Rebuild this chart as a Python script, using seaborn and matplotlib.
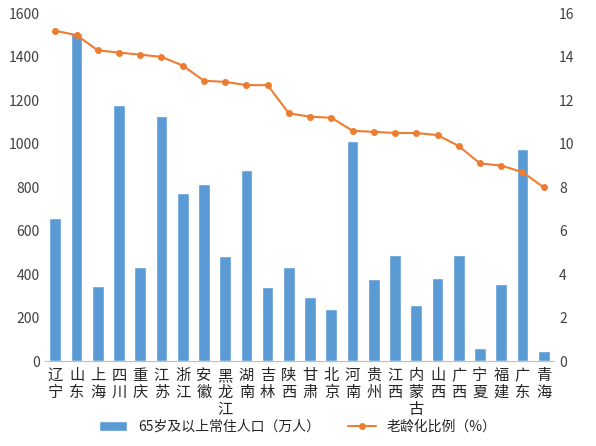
import matplotlib
matplotlib.use("Agg")
import matplotlib.pyplot as plt
import seaborn as sns
import pandas as pd

# provinces, population aged 65+ (10k) and aging ratio (%)
provinces = ["辽宁", "山东", "上海", "四川", "重庆", "江苏", "浙江", "安徽", "黑龙江", "湖南",
             "吉林", "陕西", "甘肃", "北京", "河南", "贵州", "江西", "内蒙古", "山西", "广西",
             "宁夏", "福建", "广东", "青海"]
population = [660, 1510, 345, 1180, 435, 1130, 775, 815, 485, 880,
              340, 435, 295, 240, 1015, 380, 490, 260, 385, 490,
              60, 355, 975, 45]
ratio = [15.2, 15.0, 14.3, 14.2, 14.1, 14.0, 13.6, 12.9, 12.85, 12.7,
         12.7, 11.4, 11.25, 11.2, 10.6, 10.55, 10.5, 10.5, 10.4, 9.9,
         9.1, 9.0, 8.7, 8.0]

sns.set_style("white")
plt.rcParams["font.family"] = ["Noto Sans CJK SC", "DejaVu Sans"]

df = pd.DataFrame({"province": provinces, "pop": population, "ratio": ratio})

fig, ax = plt.subplots(figsize=(5.96, 4.46), dpi=100)
sns.barplot(data=df, x="province", y="pop", color="#5b9bd5", saturation=1,
            width=0.55, ax=ax, label="65岁及以上常住人口（万人）")
if ax.get_legend() is not None:
    ax.get_legend().remove()
ax2 = ax.twinx()
ax2.plot(range(len(provinces)), ratio, color="#ed7d31", marker="o",
         markersize=4, linewidth=1.5, label="老龄化比例（%）")

ax.set_ylim(0, 1600)
ax.set_yticks(range(0, 1601, 200))
ax2.set_ylim(0, 16)
ax2.set_yticks(range(0, 17, 2))
ax.set_xlim(-0.5, len(provinces) - 0.5)
ax.set_xticks(range(len(provinces)))
ax.set_xticklabels(["\n".join(p) for p in provinces], fontsize=11, linespacing=1.0,
                   va="top")
ax.set_xlabel("")
ax.set_ylabel("")
for a in (ax, ax2):
    a.tick_params(axis="y", labelsize=10, colors="#404040", length=0)
    for s in a.spines.values():
        s.set_visible(False)
ax.spines["bottom"].set_visible(True)
ax.spines["bottom"].set_color("#bfbfbf")
ax.tick_params(axis="x", length=0, pad=4)

h1, l1 = ax.get_legend_handles_labels()
h2, l2 = ax2.get_legend_handles_labels()
fig.legend(h1 + h2, l1 + l2, loc="lower center", ncol=2, frameon=False,
           fontsize=10, bbox_to_anchor=(0.5, 0.0))

fig.subplots_adjust(left=0.075, right=0.93, top=0.97, bottom=0.19)
fig.savefig("out.png", dpi=100)
